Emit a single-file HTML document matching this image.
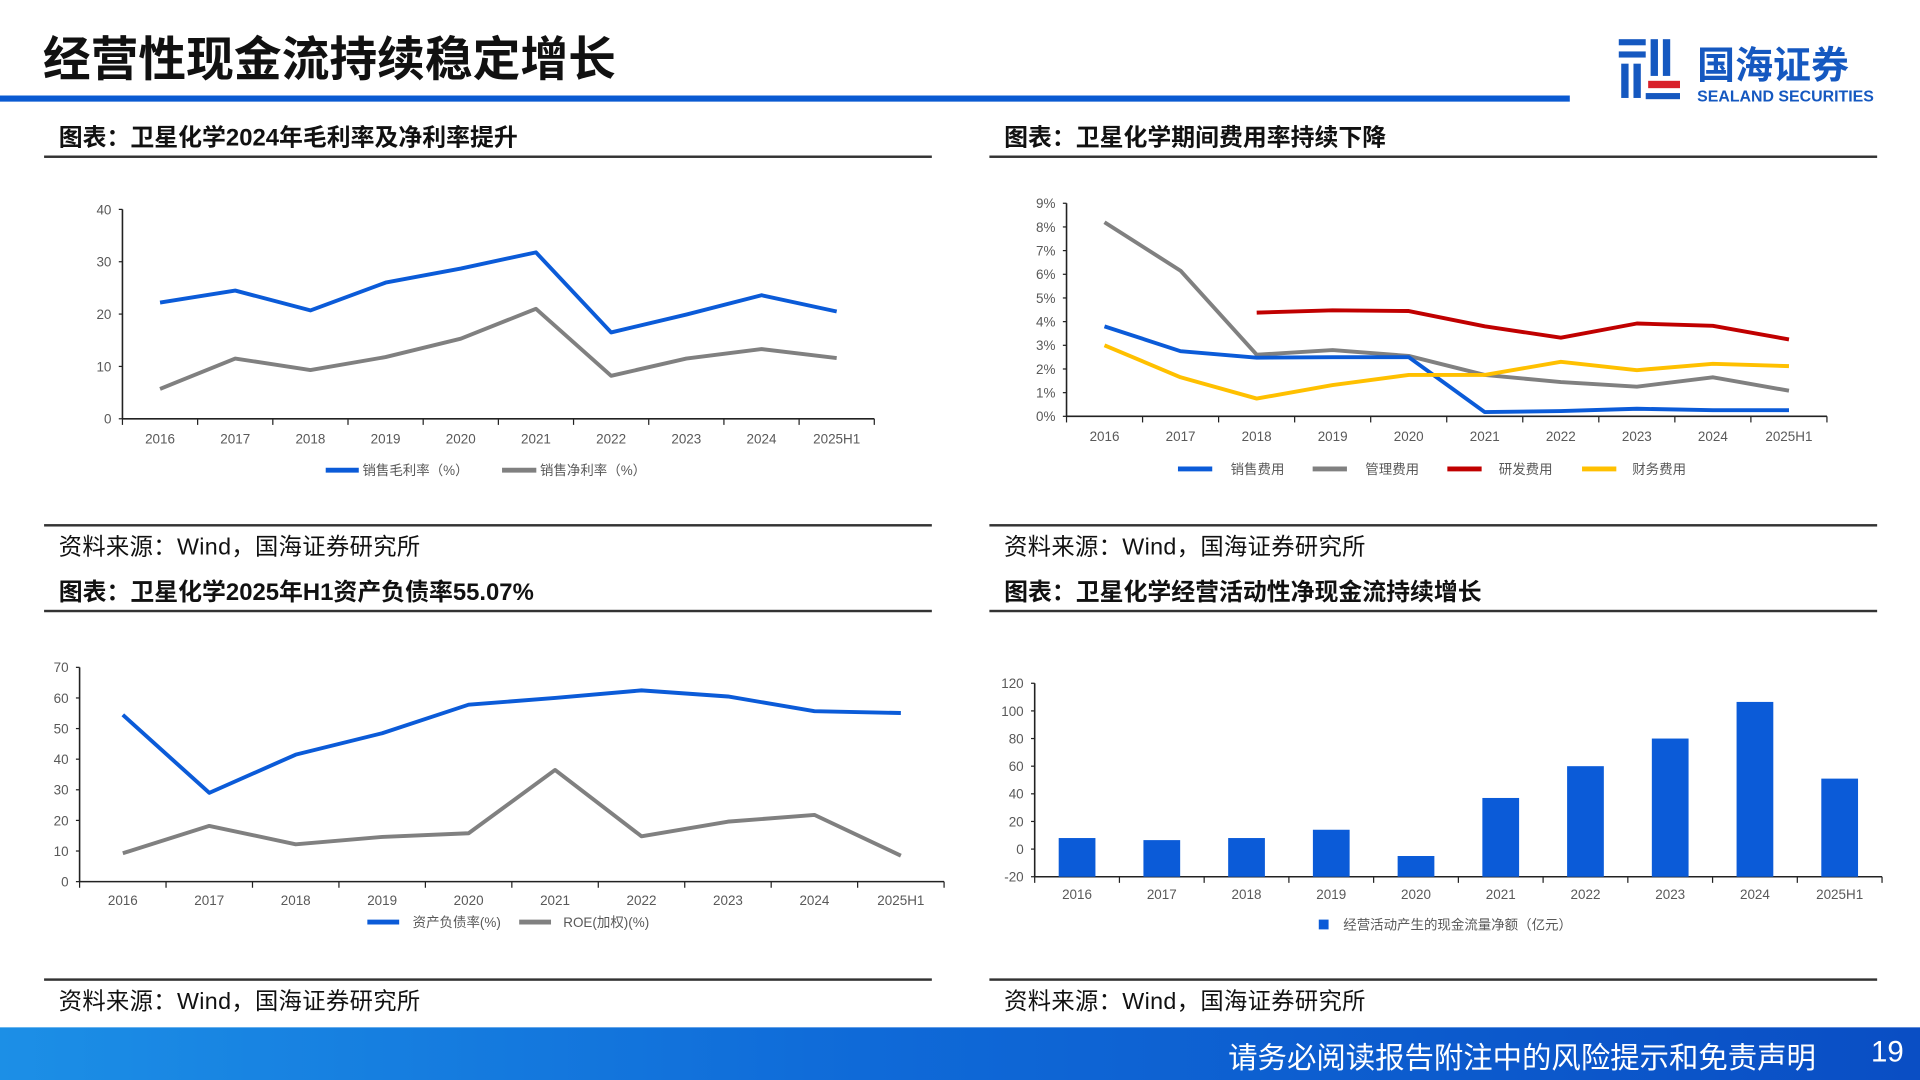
<!DOCTYPE html>
<html><head><meta charset="utf-8">
<style>
html,body{margin:0;padding:0;width:1920px;height:1080px;overflow:hidden;background:#fff;}
#wrap{position:absolute;left:0;top:0;width:1568px;height:882px;transform:scale(1.2244898);transform-origin:0 0;font-family:"Liberation Sans","Noto Sans CJK SC",sans-serif;}
.abs{position:absolute;}
.ptitle{position:absolute;font-size:19.5px;font-weight:bold;color:#111;white-space:nowrap;}
.src{position:absolute;font-size:19px;color:#111;white-space:nowrap;letter-spacing:0.3px;}
.rule{position:absolute;height:2px;background:#333;}
svg text{font-family:"Liberation Sans","Noto Sans CJK SC",sans-serif;}
</style></head>
<body>
<div id="wrap">
  <div class="abs" style="left:35px;top:18px;font-size:39px;font-weight:bold;color:#111;">经营性现金流持续稳定增长</div>
  <div class="abs" style="left:0;top:78px;width:1282px;height:5px;background:#0a5ad2;"></div>
  <div class="abs" style="left:1318px;top:28px;width:218px;height:60px;">
    <svg width="218" height="60">
      <rect x="4" y="4" width="22" height="5" fill="#1558c0"/>
      <rect x="4" y="14" width="22" height="5" fill="#1558c0"/>
      <rect x="6" y="24" width="6" height="28" fill="#1558c0"/>
      <rect x="16" y="24" width="6" height="28" fill="#1558c0"/>
      <rect x="30" y="4" width="6" height="30" fill="#1558c0"/>
      <rect x="40" y="4" width="6" height="30" fill="#1558c0"/>
      <rect x="28" y="38" width="26" height="6" fill="#d8202a"/>
      <rect x="26" y="48" width="28" height="5" fill="#1558c0"/>
      <text x="68" y="36" font-size="31" font-weight="bold" fill="#1558c0">国海证券</text>
      <text x="68" y="55" font-size="13" font-weight="bold" fill="#1558c0">SEALAND SECURITIES</text>
    </svg>
  </div>

  <div class="ptitle" style="left:48px;top:96px;">图表：卫星化学2024年毛利率及净利率提升</div>
  <div class="rule" style="left:36px;top:127px;width:725px;"></div>
  <div class="ptitle" style="left:820px;top:96px;">图表：卫星化学期间费用率持续下降</div>
  <div class="rule" style="left:808px;top:127px;width:725px;"></div>
  <div class="rule" style="left:36px;top:428px;width:725px;"></div>
  <div class="rule" style="left:808px;top:428px;width:725px;"></div>
  <div class="src" style="left:48px;top:432px;">资料来源：Wind，国海证券研究所</div>
  <div class="src" style="left:820px;top:432px;">资料来源：Wind，国海证券研究所</div>
  <div class="ptitle" style="left:48px;top:467px;">图表：卫星化学2025年H1资产负债率55.07%</div>
  <div class="rule" style="left:36px;top:498px;width:725px;"></div>
  <div class="ptitle" style="left:820px;top:467px;">图表：卫星化学经营活动性净现金流持续增长</div>
  <div class="rule" style="left:808px;top:498px;width:725px;"></div>
  <div class="rule" style="left:36px;top:799px;width:725px;"></div>
  <div class="rule" style="left:808px;top:799px;width:725px;"></div>
  <div class="src" style="left:48px;top:803px;">资料来源：Wind，国海证券研究所</div>
  <div class="src" style="left:820px;top:803px;">资料来源：Wind，国海证券研究所</div>

  <svg id="charts" class="abs" style="left:0;top:0;" width="1568" height="882"></svg>

  <div class="abs" style="left:0;top:839px;width:1568px;height:43px;background:linear-gradient(90deg,#1c8fe6 0%,#0f6ad8 45%,#0a4ec4 100%);"></div>
  <div class="abs" style="left:1003px;top:844px;font-size:24px;color:#fff;white-space:nowrap;">请务必阅读报告附注中的风险提示和免责声明</div>
  <div class="abs" style="left:1528px;top:846px;font-size:24px;color:#fff;">19</div>
</div>
<script>
const years = ["2016","2017","2018","2019","2020","2021","2022","2023","2024","2025H1"];
const grossMargin = [22.2,24.5,20.7,26.0,28.7,31.8,16.5,19.9,23.6,20.5];
const netMargin = [5.7,11.5,9.3,11.8,15.3,21.0,8.2,11.5,13.3,11.6];
const c1Ticks = [0,10,20,30,40];
const sellExp = [3.8,2.75,2.48,2.5,2.5,0.18,0.22,0.32,0.26,0.26];
const mgmtExp = [8.2,6.15,2.6,2.8,2.55,1.75,1.45,1.25,1.65,1.08];
const rdExp = [null,null,4.38,4.48,4.45,3.8,3.32,3.92,3.82,3.25];
const finExp = [3.0,1.65,0.75,1.32,1.75,1.75,2.3,1.95,2.22,2.12];
const c2Ticks = [0,1,2,3,4,5,6,7,8,9];
const debtRatio = [54.5,29.0,41.5,48.5,57.8,60.0,62.5,60.5,55.7,55.1];
const roe = [9.3,18.2,12.2,14.6,15.8,36.5,14.8,19.6,21.8,8.5];
const c3Ticks = [0,10,20,30,40,50,60,70];
const opCashFlow = [8,6.5,8,14,-5,37,60,80,106.5,51];
const c4Ticks = [-20,0,20,40,60,80,100,120];

const NS = "http://www.w3.org/2000/svg";
const root = document.getElementById('charts');
function mk(tag, attrs, parent){
  const e = document.createElementNS(NS, tag);
  for (const k in attrs) e.setAttribute(k, attrs[k]);
  (parent||root).appendChild(e);
  return e;
}
function axes(cfg){
  const g = mk('g', {});
  
  
  const yS = v => cfg.y0 - (v - cfg.min) / (cfg.max - cfg.min) * (cfg.y0 - cfg.y1);
  const n = years.length;
  const step = (cfg.xEnd - cfg.xAxis) / n;
  const xS = i => cfg.xAxis + step * (i + 0.5);
  mk('line', {x1:cfg.xAxis, y1:yS(cfg.max), x2:cfg.xAxis, y2:cfg.y0, stroke:'#222', 'stroke-width':1.3}, g);
  mk('line', {x1:cfg.xAxis, y1:cfg.y0, x2:cfg.xEnd, y2:cfg.y0, stroke:'#222', 'stroke-width':1.3}, g);
  cfg.ticks.forEach(t => {
    mk('line', {x1:cfg.xAxis-3, y1:yS(t), x2:cfg.xAxis, y2:yS(t), stroke:'#222', 'stroke-width':1}, g);
    const tx = mk('text', {x:cfg.xAxis-9, y:yS(t)+4, 'font-size':11, fill:'#595959', 'text-anchor':'end'}, g);
    tx.textContent = cfg.fmt ? cfg.fmt(t) : t;
    
    
  });
  for (let i = 0; i <= n; i++) {
    const x = cfg.xAxis + step * i;
    mk('line', {x1:x, y1:cfg.y0, x2:x, y2:cfg.y0+5, stroke:'#222', 'stroke-width':1}, g);
  }
  years.forEach((y, i) => {
    const tx = mk('text', {x:xS(i), y:cfg.labelY, 'font-size':11, fill:'#595959', 'text-anchor':'middle'}, g);
    tx.textContent = y;
    
    
  });
  return {xS, yS, step};
}
function line(ax, vals, color, name){
  let d = '';
  let pen = false;
  vals.forEach((v, i) => {
    if (v === null) { pen = false; return; }
    d += (pen ? 'L' : 'M') + ax.xS(i).toFixed(1) + ' ' + ax.yS(v).toFixed(1) + ' ';
    pen = true;
  });
  const p = mk('path', {d:d, fill:'none', stroke:color, 'stroke-width':3.2, 'stroke-linejoin':'round'});
  
  
}
function legend(x1, x2, tx, y, color, label, name){
  const g = mk('g', {});
  
  
  mk('line', {x1:x1, y1:y, x2:x2, y2:y, stroke:color, 'stroke-width':4}, g);
  const t = mk('text', {x:tx, y:y+4, 'font-size':11, fill:'#595959'}, g);
  t.textContent = label;
}

// Chart 1
const a1 = axes({name:'chart1', xAxis:100, xEnd:714, y0:342, y1:171, min:0, max:40, ticks:c1Ticks, labelY:362});
line(a1, grossMargin, '#0b5bd8', 'gross-margin-line');
line(a1, netMargin, '#808080', 'net-margin-line');
legend(266, 293, 296, 384, '#0b5bd8', '销售毛利率（%）', 'legend-gross-margin');
legend(410, 438, 441, 384, '#808080', '销售净利率（%）', 'legend-net-margin');

// Chart 2
const a2 = axes({name:'chart2', xAxis:871, xEnd:1492, y0:340, y1:166, min:0, max:9, ticks:c2Ticks, labelY:360, fmt:t=>t+'%'});
line(a2, mgmtExp, '#808080', 'mgmt-expense-line');
line(a2, sellExp, '#0b5bd8', 'sales-expense-line');
line(a2, finExp, '#ffc000', 'finance-expense-line');
line(a2, rdExp, '#c00000', 'rd-expense-line');
legend(962, 990, 1005, 383, '#0b5bd8', '销售费用', 'legend-sales-expense');
legend(1072, 1100, 1115, 383, '#808080', '管理费用', 'legend-mgmt-expense');
legend(1182, 1210, 1224, 383, '#c00000', '研发费用', 'legend-rd-expense');
legend(1292, 1320, 1333, 383, '#ffc000', '财务费用', 'legend-finance-expense');

// Chart 3
const a3 = axes({name:'chart3', xAxis:65, xEnd:771, y0:720, y1:545, min:0, max:70, ticks:c3Ticks, labelY:739});
line(a3, debtRatio, '#0b5bd8', 'debt-ratio-line');
line(a3, roe, '#808080', 'roe-line');
legend(300, 326, 337, 753, '#0b5bd8', '资产负债率(%)', 'legend-debt-ratio');
legend(424, 450, 460, 753, '#808080', 'ROE(加权)(%)', 'legend-roe');

// Chart 4
const a4 = axes({name:'chart4', xAxis:845, xEnd:1537, y0:716, y1:558, min:-20, max:120, ticks:c4Ticks, labelY:734});
opCashFlow.forEach((v, i) => {
  const bw = 30;
  const top = a4.yS(v);
  const b = mk('rect', {x:a4.xS(i)-bw/2, y:top, width:bw, height:a4.yS(-20)-top, fill:'#0b5bd8'});
  
  
});
const lg4 = mk('g', {});


mk('rect', {x:1077, y:751, width:8, height:8, fill:'#0b5bd8'}, lg4);
const lt4 = mk('text', {x:1097, y:759, 'font-size':11, fill:'#595959'}, lg4);
lt4.textContent = '经营活动产生的现金流量净额（亿元）';
</script>
</body></html>
